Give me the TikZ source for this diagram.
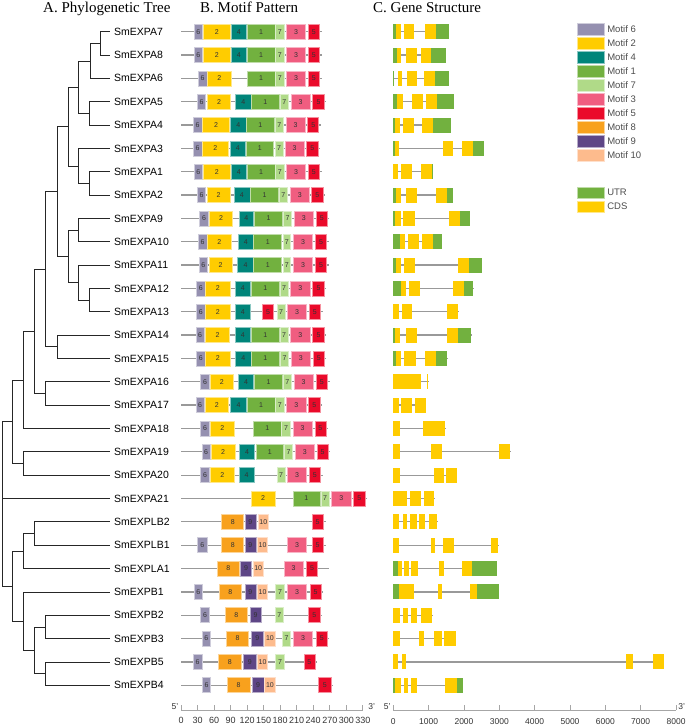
\documentclass[tikz,border=0pt]{standalone}
\usepackage{fontspec}
\setmainfont{Liberation Serif}
\setsansfont{Liberation Sans}
\usetikzlibrary{positioning}

\definecolor{motif6}{HTML}{9590B0}
\definecolor{motif2}{HTML}{FFCC00}
\definecolor{motif4}{HTML}{00857A}
\definecolor{motif1}{HTML}{72B13F}
\definecolor{motif7}{HTML}{B0DA88}
\definecolor{motif3}{HTML}{F05D80}
\definecolor{motif5}{HTML}{EA0A2A}
\definecolor{motif8}{HTML}{F8A11D}
\definecolor{motif9}{HTML}{5E4686}
\definecolor{motif10}{HTML}{FDBB8D}
\colorlet{utr}{motif1}
\colorlet{cds}{motif2}

\tikzset{
  branch/.style={draw=black!85,line width=0.7pt},
  leaf/.style={anchor=west,inner sep=4pt,font=\sffamily\fontsize{10.5}{12}\selectfont},
  paneltitle/.style={anchor=base west,inner sep=0pt,font=\fontsize{15}{18}\selectfont},
  backbone/.style={draw=black!40,line width=1.3pt},
  mbox/.style={fill=#1,draw=#1!45!white,line width=0.7pt},
  mnum/.style={inner sep=0pt,text=black!80,font=\sffamily\fontsize{7}{8}\selectfont},
  exon/.style={fill=#1},
  scalebar/.style={draw=black!35,line width=0.9pt},
  ticklab/.style={inner sep=0pt,text=black!80,font=\sffamily\fontsize{#1}{10}\selectfont},
  ticklab/.default=9,
  lgbox/.style={minimum width=27pt,minimum height=11.5pt,inner sep=0pt,fill=#1,draw=#1!45!white,line width=0.6pt},
  lgtext/.style={inner sep=0pt,text=black!70,font=\sffamily\fontsize{9.5}{11}\selectfont}
}

\begin{document}
\begin{tikzpicture}[x=1pt,y=-1pt]
\useasboundingbox (0,0) rectangle (685,727);

% panel titles
\node[paneltitle] (ttlA) at (43,12.7) {A. Phylogenetic Tree};
\node[paneltitle] (ttlB) at (200,12.7) {B. Motif Pattern};
\node[paneltitle] (ttlC) at (373,12.7) {C. Gene Structure};

% A. tree
\foreach \g [count=\r from 0] in {SmEXPA7,SmEXPA8,SmEXPA6,SmEXPA5,SmEXPA4,SmEXPA3,SmEXPA1,SmEXPA2,
  SmEXPA9,SmEXPA10,SmEXPA11,SmEXPA12,SmEXPA13,SmEXPA14,SmEXPA15,SmEXPA16,SmEXPA17,SmEXPA18,
  SmEXPA19,SmEXPA20,SmEXPA21,SmEXPLB2,SmEXPLB1,SmEXPLA1,SmEXPB1,SmEXPB2,SmEXPB3,SmEXPB5,SmEXPB4}
  \node[leaf] (\g) at (110,{31.7+23.34*\r}) {\g};

\coordinate (t1) at (100,43.4);
\coordinate (t2) at (90,60.9);
\coordinate (t3) at (89,113.4);
\coordinate (t4) at (78,87.1);
\coordinate (t5) at (89,183.4);
\coordinate (t6) at (78,165.9);
\coordinate (t7) at (68,126.5);
\coordinate (t8) at (78,230.1);
\coordinate (t9) at (89,300.1);
\coordinate (t10) at (78,282.6);
\coordinate (t11) at (68,256.4);
\coordinate (t12) at (57,191.4);
\coordinate (t13) at (57,346.8);
\coordinate (t14) at (45,269.1);
\coordinate (t15) at (45,393.5);
\coordinate (t16) at (34,331.3);
\coordinate (t17) at (23,379.9);
\coordinate (t18) at (23,463.5);
\coordinate (t19) at (12.7,421.7);
\coordinate (t20) at (34,533.5);
\coordinate (t21) at (23,551);
\coordinate (t22) at (45,626.9);
\coordinate (t23) at (45,673.6);
\coordinate (t24) at (34,650.2);
\coordinate (t25) at (23,621);
\coordinate (t26) at (12.7,586);
\coordinate (root) at (2.7,498.5);

\foreach \p/\c in {t1/SmEXPA7.west,t1/SmEXPA8.west,t2/t1,t2/SmEXPA6.west,
  t3/SmEXPA5.west,t3/SmEXPA4.west,t4/t2,t4/t3,t5/SmEXPA1.west,t5/SmEXPA2.west,
  t6/SmEXPA3.west,t6/t5,t7/t4,t7/t6,t8/SmEXPA9.west,t8/SmEXPA10.west,
  t9/SmEXPA12.west,t9/SmEXPA13.west,t10/SmEXPA11.west,t10/t9,t11/t8,t11/t10,
  t12/t7,t12/t11,t13/SmEXPA14.west,t13/SmEXPA15.west,t14/t12,t14/t13,
  t15/SmEXPA16.west,t15/SmEXPA17.west,t16/t14,t16/t15,t17/t16,t17/SmEXPA18.west,
  t18/SmEXPA19.west,t18/SmEXPA20.west,t19/t17,t19/t18,
  t20/SmEXPLB2.west,t20/SmEXPLB1.west,t21/t20,t21/SmEXPLA1.west,
  t22/SmEXPB2.west,t22/SmEXPB3.west,t23/SmEXPB5.west,t23/SmEXPB4.west,
  t24/t22,t24/t23,t25/SmEXPB1.west,t25/t24,t26/t21,t26/t25,
  root/t19,root/SmEXPA21.west,root/t26}
  \draw[branch] (\p) |- (\c);

% B. motifs (x in aa)
\begin{scope}[shift={(181,0)},x=0.551pt]
\foreach \r/\len/\ms in {
  0/255/{6/24/39,2/41/89,4/91/119,1/120/171,7/172/187,3/192/226,5/231/251},
  1/255/{6/24/39,2/41/89,4/91/119,1/120/171,7/172/187,3/192/226,5/231/251},
  2/255/{6/31/47,2/48/91,1/120/171,7/172/187,3/192/226,5/231/251},
  3/263/{6/30/45,2/48/90,4/99/127,1/128/178,7/180/195,3/200/234,5/239/260},
  4/254/{6/22/38,2/39/88,4/90/118,1/119/169,7/171/186,3/191/225,5/230/250},
  5/252/{6/22/38,2/39/86,4/89/117,1/118/168,7/171/185,3/189/223,5/228/249},
  6/255/{6/24/39,2/41/89,4/91/119,1/120/171,7/172/187,3/192/226,5/231/251},
  7/261/{6/30/45,2/47/89,4/96/125,1/126/177,7/178/193,3/198/233,5/237/258},
  8/269/{6/34/50,2/51/94,4/105/132,1/134/184,7/186/201,3/206/240,5/245/266},
  9/268/{6/31/47,2/48/91,4/104/131,1/132/183,7/185/199,3/204/239,5/244/264},
  10/268/{6/33/48,2/51/93,4/103/131,1/132/183,7/185/199,3/204/239,5/244/264},
  11/263/{6/28/44,2/45/89,4/98/126,1/128/178,7/180/194,3/199/234,5/239/260},
  12/257/{6/28/44,2/45/89,4/98/126,5/148/168,7/174/189,3/193/228,5/233/253},
  13/263/{6/27/42,2/45/88,4/98/126,1/128/178,7/180/194,3/199/234,5/239/260},
  14/263/{6/28/44,2/45/89,4/99/127,1/128/178,7/181/195,3/200/235,5/240/260},
  15/270/{6/36/51,2/53/95,4/104/132,1/134/184,7/186/200,3/205/240,5/245/266},
  16/255/{6/27/42,2/44/86,4/90/119,1/120/171,7/172/187,3/192/227,5/232/252},
  17/267/{6/36/51,2/54/96,1/131/182,7/183/198,3/203/238,5/243/263},
  18/271/{6/38/53,2/55/98,4/106/134,1/136/186,7/188/202,3/207/242,5/247/267},
  19/257/{6/36/51,2/54/96,4/105/133,7/174/189,3/193/228,5/233/253},
  20/337/{2/127/171,1/203/252,7/254/269,3/273/309,5/313/334},
  21/263/{8/74/114,9/116/136,10/140/159,5/238/258},
  22/263/{6/30/47,8/74/114,9/116/136,10/139/157,3/193/228,5/238/258},
  23/269/{8/66/106,9/108/128,10/131/149,3/187/222,5/228/248},
  24/258/{6/24/39,8/69/110,9/116/136,10/139/157,7/172/188,3/193/228,5/234/254},
  25/255/{6/36/51,8/80/121,9/125/146,7/171/186,5/232/252},
  26/269/{6/38/54,8/82/123,9/128/149,10/152/171,7/184/199,3/204/239,5/245/266},
  27/246/{6/22/38,8/68/109,9/114/136,10/139/157,7/172/188,5/223/243},
  28/275/{6/39/54,8/84/125,9/129/151,10/152/171,5/250/272}} {
  \pgfmathsetmacro\y{31.7+23.34*\r}
  \draw[backbone] (0,\y) -- (\len,\y);
  \foreach \m/\xa/\xb in \ms {
    \draw[mbox=motif\m] ({\xa},{\y-7.5}) rectangle ({\xb},{\y+7.5});
    \node[mnum] (m\r-\xa) at ({(\xa+\xb)/2},\y) {\m};
  }
}
% scale
\draw[scalebar] (0,710) -- (330,710);
\foreach \t in {0,30,...,330} {
  \draw[scalebar] (\t,710) -- (\t,705);
  \node[ticklab] (ma\t) at (\t,720.5) {\t};
}
\node[ticklab=8.5] (m5p) at (-11,707) {5'};
\node[ticklab=8.5] (m3p) at (346,707) {3'};
\end{scope}

% C. gene structure (x in bp)
\begin{scope}[shift={(393.3,0)},x=0.03534pt]
\foreach \r/\len/\ex in {
  0/1575/{utr/0/66,cds/66/208,cds/302/594,cds/896/1198,utr/1198/1575},
  1/1491/{utr/0/94,cds/94/217,cds/358/660,cds/774/1066,utr/1066/1481},
  2/1575/{utr/0/28,cds/123/255,cds/377/660,cds/877/1179,utr/1179/1575},
  3/1717/{utr/0/113,cds/113/264,cds/519/830,cds/925/1245,utr/1245/1717},
  4/1632/{utr/0/57,cds/57/189,cds/283/585,cds/811/1113,utr/1113/1632},
  5/2575/{utr/0/38,cds/38/160,cds/1396/1698,cds/1953/2245,utr/2245/2575},
  6/1113/{cds/0/142,cds/217/519,cds/783/1085,utr/1085/1113},
  7/1698/{utr/0/66,cds/66/208,cds/349/660,cds/1208/1509,utr/1509/1698},
  8/2170/{utr/0/57,cds/57/217,cds/283/604,cds/1575/1887,utr/1887/2170},
  9/1368/{utr/0/189,cds/189/330,cds/425/736,cds/821/1113,utr/1113/1368},
  10/2519/{utr/0/66,cds/66/217,cds/302/613,cds/1840/2151,utr/2151/2500},
  11/2292/{utr/0/217,cds/217/349,cds/443/755,cds/1679/1991,utr/1991/2264},
  12/1849/{cds/0/160,cds/236/538,cds/1528/1830},
  13/2217/{utr/0/47,cds/47/189,cds/349/670,cds/1519/1821,utr/1821/2198},
  14/1547/{utr/0/66,cds/66/217,cds/311/632,cds/896/1198,utr/1198/1528},
  15/1009/{cds/0/783,cds/953/991},
  16/934/{cds/0/160,cds/217/528,cds/604/915},
  17/1481/{cds/0/189,cds/849/1462},
  18/3321/{cds/0/189,cds/1066/1387,cds/3000/3302},
  19/1811/{cds/0/189,cds/1160/1443,cds/1481/1792},
  20/1179/{cds/0/396,cds/472/783,cds/868/1160},
  21/1255/{cds/0/170,cds/283/396,cds/472/679,cds/736/896,cds/1019/1245},
  22/2991/{cds/0/160,cds/1057/1179,cds/1415/1726,cds/2755/2972},
  23/2925/{utr/0/123,cds/123/255,cds/302/443,cds/500/689,cds/1302/1443,cds/1953/2217,utr/2217/2925},
  24/2991/{utr/0/160,cds/160/594,cds/1255/1387,cds/2170/2358,utr/2358/2991},
  25/1113/{cds/0/189,cds/283/425,cds/491/679,cds/783/1104},
  26/1783/{cds/0/189,cds/736/877,cds/1151/1368,cds/1443/1774},
  27/7670/{cds/0/142,cds/236/358,cds/6585/6792,cds/7359/7660},
  28/1962/{utr/0/47,cds/47/217,cds/292/425,cds/491/679,cds/1462/1811,utr/1811/1962}} {
  \pgfmathsetmacro\y{31.7+23.34*\r}
  \draw[backbone] (0,\y) -- (\len,\y);
  \foreach \kind/\xa/\xb in \ex
    \fill[exon=\kind] ({\xa},{\y-7.5}) rectangle ({\xb},{\y+7.5});
}
% scale
\draw[scalebar] (0,710) -- (8000,710);
\foreach \t in {0,1000,...,8000} {
  \draw[scalebar] (\t,710) -- (\t,705);
  \node[ticklab=8.5] (ga\t) at (\t,721.5) {\t};
}
\node[ticklab=8.5] (g5p) at (-170,707) {5'};
\node[ticklab=8.5] (g3p) at (8160,707) {3'};
\end{scope}

% legend
\foreach \m [count=\i from 0] in {6,2,4,1,7,3,5,8,9,10} {
  \node[lgbox=motif\m] (lg\m) at (590.3,{29.3+14*\i}) {};
  \node[lgtext,right=3pt of lg\m] (lt\m) {Motif \m};
}
\node[lgbox=utr] (lgutr) at (590.3,192.7) {};
\node[lgtext,right=3pt of lgutr] (ltutr) {UTR};
\node[lgbox=cds] (lgcds) at (590.3,206.7) {};
\node[lgtext,right=3pt of lgcds] (ltcds) {CDS};
\end{tikzpicture}
\end{document}
